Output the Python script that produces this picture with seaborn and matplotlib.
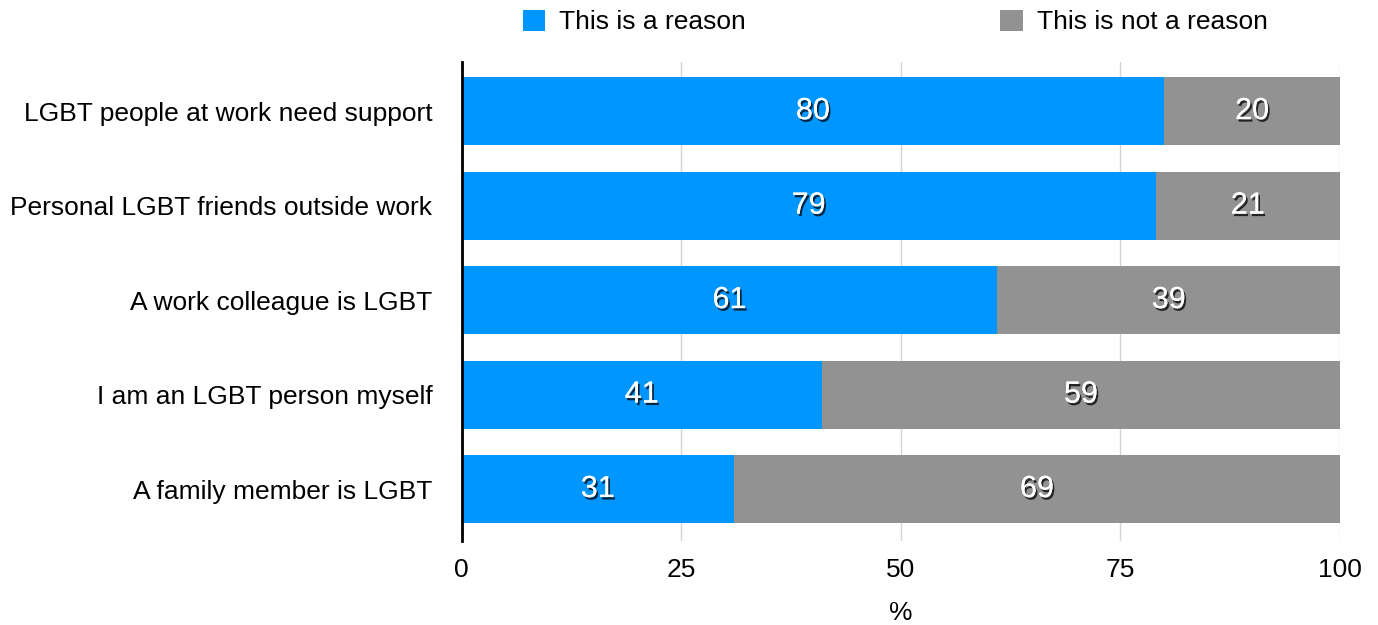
import matplotlib
matplotlib.use("Agg")
import matplotlib.pyplot as plt
import matplotlib.patheffects as pe
from matplotlib.patches import Patch
import seaborn as sns
import pandas as pd

categories = [
    "LGBT people at work need support",
    "Personal LGBT friends outside work",
    "A work colleague is LGBT",
    "I am an LGBT person myself",
    "A family member is LGBT",
]
is_reason = [80, 79, 61, 41, 31]
not_reason = [20, 21, 39, 59, 69]
series_names = ["This is a reason", "This is not a reason"]
x_ticks = [0, 25, 50, 75, 100]

blue = "#0096FF"
gray = "#929292"

sns.set_theme(style="white")
plt.rcParams["font.family"] = ["Liberation Sans", "DejaVu Sans"]
plt.rcParams["text.color"] = "black"
plt.rcParams["xtick.color"] = "black"
plt.rcParams["ytick.color"] = "black"
plt.rcParams["axes.labelcolor"] = "black"

df = pd.DataFrame({"category": categories, "reason": is_reason, "not": not_reason})
df["total"] = df["reason"] + df["not"]

fig = plt.figure(figsize=(13.78, 6.25), dpi=100)
ax = fig.add_axes([0.335, 0.1344, 0.9724 - 0.335, 0.9008 - 0.1344])

sns.barplot(data=df, y="category", x="total", color=gray, orient="h",
            width=0.72, ax=ax, saturation=1, zorder=2, linewidth=0)
sns.barplot(data=df, y="category", x="reason", color=blue, orient="h",
            width=0.72, ax=ax, saturation=1, zorder=3, linewidth=0)

shadow = [pe.withSimplePatchShadow(offset=(1.3, -1.8), shadow_rgbFace="black", alpha=0.75),
          pe.Normal()]
for i, row in df.iterrows():
    ax.text(row["reason"] / 2, i, f"{row['reason']}", ha="center", va="center",
            color="white", fontsize=22, path_effects=shadow, zorder=5)
    ax.text(row["reason"] + row["not"] / 2, i, f"{row['not']}", ha="center", va="center",
            color="white", fontsize=22, path_effects=shadow, zorder=5)

ax.set_xlim(0, 100)
ax.set_ylim(4.55, -0.52)
ax.set_xticks(x_ticks)
ax.set_xticklabels([str(t) for t in x_ticks], fontsize=19)
ax.tick_params(axis="y", labelsize=19, length=0, pad=21)
ax.tick_params(axis="x", length=0, pad=12)
ax.set_ylabel("")
ax.set_xlabel("%", fontsize=19, labelpad=14)

ax.xaxis.grid(True, color="#d4d4d4", linewidth=1, zorder=0)
ax.set_axisbelow(True)
for s in ["top", "right", "bottom"]:
    ax.spines[s].set_visible(False)
ax.spines["left"].set_color("black")
ax.spines["left"].set_linewidth(2)
ax.spines["left"].set_zorder(6)

handles = [Patch(facecolor=blue, edgecolor="none"), Patch(facecolor=gray, edgecolor="none")]
fig.legend(handles, series_names, loc="center", bbox_to_anchor=(0.6495, 0.965), ncol=2,
           frameon=False, fontsize=19, handlelength=0.85, handleheight=0.85,
           handletextpad=0.53, columnspacing=9.64)

fig.savefig("out.png", dpi=100)
